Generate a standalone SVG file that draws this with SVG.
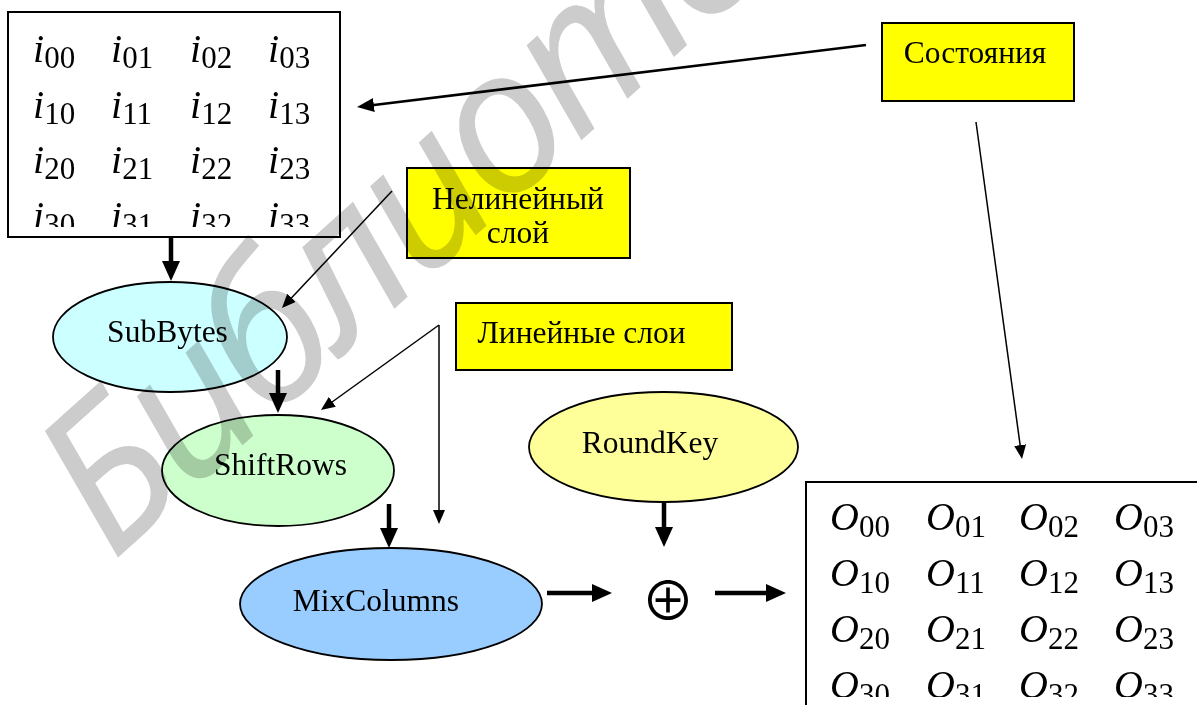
<svg xmlns="http://www.w3.org/2000/svg" width="1197" height="705" viewBox="0 0 1197 705">
<style>
.lbl{font-family:"Liberation Serif","Times New Roman",serif;font-size:31.5px;fill:#000;text-anchor:middle}
.mi{font-family:"Liberation Serif","Times New Roman",serif;font-size:40px;font-style:italic;fill:#000}
.sub{font-style:normal;font-size:31px}
.box{fill:#fff;stroke:#000;stroke-width:2}
.note{fill:#ffff00;stroke:#000;stroke-width:2}
.ell{stroke:#000;stroke-width:1.8}
.thick{stroke:#000;stroke-width:4.5;fill:none}
.thin{stroke:#000;stroke-width:1.5;fill:none}
.mid{stroke:#000;stroke-width:2.5;fill:none}
.wm{font-family:"Noto Sans","Open Sans",sans-serif;font-style:italic;font-size:200px;letter-spacing:-8px;fill:#cccccc;mix-blend-mode:multiply}
</style>
<defs>
<marker id="ahThick" viewBox="0 0 20 18" markerWidth="20" markerHeight="18" refX="2" refY="9" orient="auto" markerUnits="userSpaceOnUse"><path d="M0,0 L20,9 L0,18 z" fill="#000"/></marker>
<marker id="ahMid" viewBox="0 0 17 14" markerWidth="17" markerHeight="14" refX="2" refY="7" orient="auto" markerUnits="userSpaceOnUse"><path d="M0,0 L17,7 L0,14 z" fill="#000"/></marker>
<marker id="ahThin" viewBox="0 0 14 12" markerWidth="14" markerHeight="12" refX="2" refY="6" orient="auto" markerUnits="userSpaceOnUse"><path d="M0,0 L14,6 L0,12 z" fill="#000"/></marker>
<clipPath id="clipIn"><rect x="9" y="12" width="331" height="215"/></clipPath>
<clipPath id="clipOut"><rect x="807" y="483" width="390" height="214"/></clipPath>
</defs>
<rect width="1197" height="705" fill="#fff"/>

<g id="input-state">
<rect class="box" x="8" y="12" width="332" height="225"/>
<g clip-path="url(#clipIn)">
<text class="mi" x="33" y="62">i<tspan class="sub" dy="6">00</tspan></text>
<text class="mi" x="111" y="62">i<tspan class="sub" dy="6">01</tspan></text>
<text class="mi" x="190" y="62">i<tspan class="sub" dy="6">02</tspan></text>
<text class="mi" x="268" y="62">i<tspan class="sub" dy="6">03</tspan></text>
<text class="mi" x="33" y="117.5">i<tspan class="sub" dy="6">10</tspan></text>
<text class="mi" x="111" y="117.5">i<tspan class="sub" dy="6">11</tspan></text>
<text class="mi" x="190" y="117.5">i<tspan class="sub" dy="6">12</tspan></text>
<text class="mi" x="268" y="117.5">i<tspan class="sub" dy="6">13</tspan></text>
<text class="mi" x="33" y="173">i<tspan class="sub" dy="6">20</tspan></text>
<text class="mi" x="111" y="173">i<tspan class="sub" dy="6">21</tspan></text>
<text class="mi" x="190" y="173">i<tspan class="sub" dy="6">22</tspan></text>
<text class="mi" x="268" y="173">i<tspan class="sub" dy="6">23</tspan></text>
<text class="mi" x="33" y="228.5">i<tspan class="sub" dy="6">30</tspan></text>
<text class="mi" x="111" y="228.5">i<tspan class="sub" dy="6">31</tspan></text>
<text class="mi" x="190" y="228.5">i<tspan class="sub" dy="6">32</tspan></text>
<text class="mi" x="268" y="228.5">i<tspan class="sub" dy="6">33</tspan></text>
</g>
</g>

<g id="output-state">
<rect class="box" x="806" y="482" width="400" height="240"/>
<g clip-path="url(#clipOut)">
<text class="mi" x="830" y="530">O<tspan class="sub" dy="7">00</tspan></text>
<text class="mi" x="926" y="530">O<tspan class="sub" dy="7">01</tspan></text>
<text class="mi" x="1019" y="530">O<tspan class="sub" dy="7">02</tspan></text>
<text class="mi" x="1114" y="530">O<tspan class="sub" dy="7">03</tspan></text>
<text class="mi" x="830" y="586">O<tspan class="sub" dy="7">10</tspan></text>
<text class="mi" x="926" y="586">O<tspan class="sub" dy="7">11</tspan></text>
<text class="mi" x="1019" y="586">O<tspan class="sub" dy="7">12</tspan></text>
<text class="mi" x="1114" y="586">O<tspan class="sub" dy="7">13</tspan></text>
<text class="mi" x="830" y="642">O<tspan class="sub" dy="7">20</tspan></text>
<text class="mi" x="926" y="642">O<tspan class="sub" dy="7">21</tspan></text>
<text class="mi" x="1019" y="642">O<tspan class="sub" dy="7">22</tspan></text>
<text class="mi" x="1114" y="642">O<tspan class="sub" dy="7">23</tspan></text>
<text class="mi" x="830" y="698">O<tspan class="sub" dy="7">30</tspan></text>
<text class="mi" x="926" y="698">O<tspan class="sub" dy="7">31</tspan></text>
<text class="mi" x="1019" y="698">O<tspan class="sub" dy="7">32</tspan></text>
<text class="mi" x="1114" y="698">O<tspan class="sub" dy="7">33</tspan></text>
</g>
</g>

<g id="note-states">
<rect class="note" x="882" y="23" width="192" height="78"/>
<text class="lbl" x="975" y="63">Состояния</text>
</g>

<g id="note-nonlinear">
<rect class="note" x="407" y="168" width="223" height="90"/>
<text class="lbl" x="518" y="209">Нелинейный</text>
<text class="lbl" x="518" y="243">слой</text>
</g>

<g id="note-linear">
<rect class="note" x="456" y="303" width="276" height="67"/>
<text class="lbl" x="581.5" y="343">Линейные слои</text>
</g>

<g id="subbytes">
<ellipse class="ell" cx="170" cy="337" rx="117" ry="55" fill="#ccffff"/>
<text class="lbl" x="167.5" y="342">SubBytes</text>
</g>

<g id="shiftrows">
<ellipse class="ell" cx="278" cy="470.5" rx="116" ry="55.5" fill="#ccffcc"/>
<text class="lbl" x="280.5" y="475">ShiftRows</text>
</g>

<g id="mixcolumns">
<ellipse class="ell" cx="391" cy="604" rx="151" ry="56" fill="#99ccff"/>
<text class="lbl" x="376" y="611">MixColumns</text>
</g>

<g id="roundkey">
<ellipse class="ell" cx="663.5" cy="447" rx="134.5" ry="55" fill="#ffff99"/>
<text class="lbl" x="650" y="453">RoundKey</text>
</g>

<g id="xor">
<text x="668" y="621" font-family="Noto Sans CJK SC, DejaVu Sans, sans-serif" font-size="54" text-anchor="middle">⊕</text>
</g>

<g id="connectors">
<line class="thick" x1="171" y1="237" x2="171" y2="263" marker-end="url(#ahThick)"/>
<line class="thick" x1="278" y1="370" x2="278" y2="395" marker-end="url(#ahThick)"/>
<line class="thick" x1="389" y1="504" x2="389" y2="530" marker-end="url(#ahThick)"/>
<line class="thick" x1="664" y1="502" x2="664" y2="529" marker-end="url(#ahThick)"/>
<line class="thick" x1="547" y1="593" x2="594" y2="593" marker-end="url(#ahThick)"/>
<line class="thick" x1="715" y1="593" x2="768" y2="593" marker-end="url(#ahThick)"/>
<line class="mid" x1="866" y1="45" x2="371.9" y2="105.2" marker-end="url(#ahMid)"/>
<line class="thin" x1="976" y1="122" x2="1020.4" y2="447.1" marker-end="url(#ahThin)"/>
<line class="thin" x1="392" y1="191" x2="290.2" y2="299.3" marker-end="url(#ahThin)"/>
<line class="thin" x1="439" y1="325" x2="439" y2="512" marker-end="url(#ahThin)"/>
<line class="thin" x1="439" y1="325" x2="330.7" y2="403" marker-end="url(#ahThin)"/>
</g>

<g id="watermark">
<text class="wm" transform="translate(113,562) rotate(-42)">Библиотека</text>
</g>
</svg>
